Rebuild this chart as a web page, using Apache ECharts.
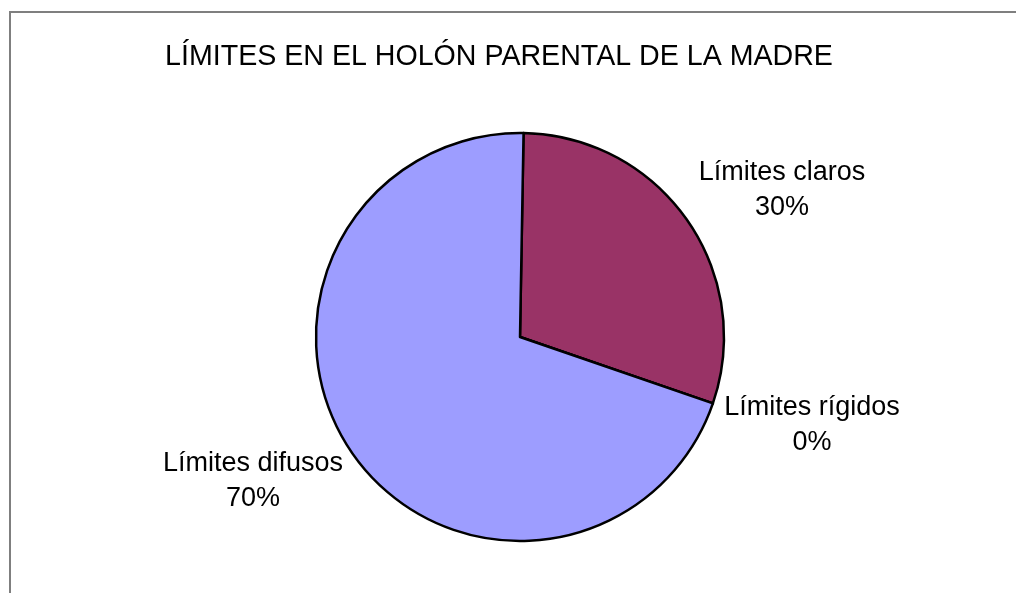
<!DOCTYPE html>
<html>
<head>
<meta charset="utf-8">
<script src="https://cdn.jsdelivr.net/npm/echarts@6/dist/echarts.min.js"></script>
<style>
    html, body { margin: 0; padding: 0; background: #ffffff; }
    #frame {
        position: absolute;
        left: 9px;
        top: 11px;
        width: 1020px;
        height: 600px;
        border-left: 2px solid #7f7f7f;
        border-top: 2px solid #7f7f7f;
    }
    #chart { position: absolute; left: 0; top: 0; width: 1016px; height: 593px; }
</style>
</head>
<body>
<div id="frame"></div>
<div id="chart"></div>
<script>
const categories = ['Límites claros', 'Límites rígidos', 'Límites difusos'];
const values = [30, 0, 70];
const sliceColors = ['#993366', '#ffffcc', '#9d9dff'];

// label block centres
const labelAnchors = [
    [782, 190],
    [812, 425],
    [253, 481],
];

const chart = echarts.init(document.getElementById('chart'));

chart.setOption({
    animation: false,
    title: {
        text: 'LÍMITES EN EL HOLÓN PARENTAL DE LA MADRE',
        left: 494,
        top: 38,
        textAlign: 'center',
        textStyle: {
            fontFamily: 'Liberation Sans, Arial, sans-serif',
            fontSize: 28.6,
            fontWeight: 'normal',
            color: '#000000',
        },
    },
    series: [
        {
            type: 'pie',
            center: [520, 337],
            radius: 204,
            startAngle: 89,
            clockwise: true,
            avoidLabelOverlap: false,
            silent: true,
            itemStyle: { borderColor: '#000000', borderWidth: 2.5 },
            label: {
                show: true,
                position: 'outside',
                formatter: (p) => `${p.name}\n${p.value}%`,
                fontFamily: 'Liberation Sans, Arial, sans-serif',
                fontSize: 27,
                lineHeight: 35,
                color: '#000000',
                align: 'center',
            },
            labelLine: { show: false },
            labelLayout: (params) => ({
                x: labelAnchors[params.dataIndex][0],
                y: labelAnchors[params.dataIndex][1],
                align: 'center',
                verticalAlign: 'middle',
            }),
            data: categories.map((name, i) => ({
                name,
                value: values[i],
                itemStyle: { color: sliceColors[i] },
            })),
        },
    ],
});
</script>
</body>
</html>
